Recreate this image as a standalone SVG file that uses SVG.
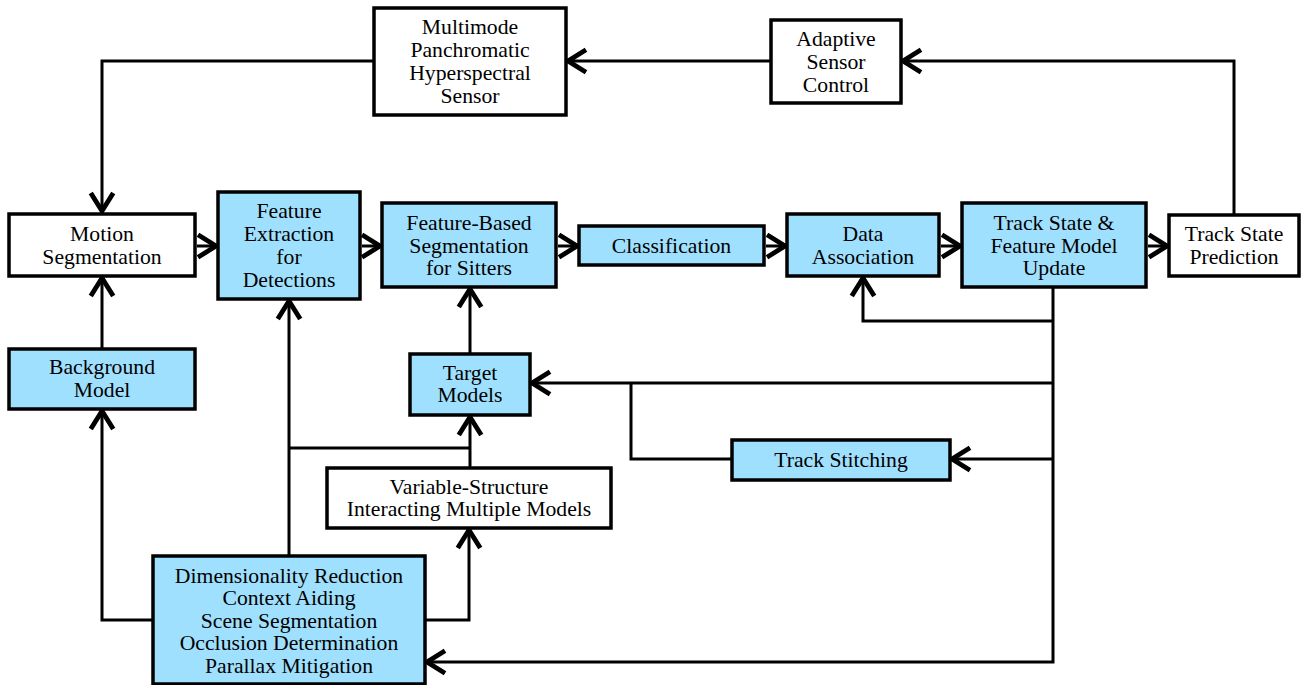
<svg xmlns="http://www.w3.org/2000/svg" width="1304" height="685" viewBox="0 0 1304 685" font-family="'Liberation Serif', 'Times New Roman', Times, serif">
<defs>
<marker id="arr" markerUnits="userSpaceOnUse" markerWidth="30" markerHeight="30" viewBox="-16 -10 20 20" refX="0" refY="0" orient="auto">
<path d="M-12,-7.5 L0,0 L-12,7.5" fill="none" stroke="#000" stroke-width="3.2" stroke-linejoin="miter" stroke-miterlimit="3"/>
</marker>
</defs>
<style>
.b{fill:#fff;stroke:#000;stroke-width:3.5}
.c{fill:#a0e0ff;stroke:#000;stroke-width:3.5}
text{font-size:21.7px;fill:#000;text-anchor:middle}
.l{fill:none;stroke:#000;stroke-width:3}
.a{marker-end:url(#arr)}
</style>
<rect width="1304" height="685" fill="#fff"/>
<g id="connectors">
<path class="l a" d="M374,61 H102 V211"/>
<path class="l a" d="M771,61 H568"/>
<path class="l a" d="M1234,215 V61 H903"/>
<path class="l a" d="M197,246 H216"/>
<path class="l a" d="M362,246 H380"/>
<path class="l a" d="M558,246 H577"/>
<path class="l a" d="M766,246 H785"/>
<path class="l a" d="M941,246 H960"/>
<path class="l a" d="M1148,246 H1167"/>
<path class="l a" d="M102,349 V278"/>
<path class="l a" d="M153,620 H102 V411"/>
<path class="l a" d="M289,556 V301"/>
<path class="l" d="M289,448 H470"/>
<path class="l a" d="M470,468 V417"/>
<path class="l a" d="M470,354 V289"/>
<path class="l a" d="M425,620 H469 V530"/>
<path class="l a" d="M1053,287 V662 H427"/>
<path class="l a" d="M1053,321 H863 V278"/>
<path class="l a" d="M1053,383 H532"/>
<path class="l a" d="M1053,459 H952"/>
<path class="l" d="M732,459 H631 V383"/>
</g>
<g id="multimode"><rect class="b" x="374" y="8" width="192" height="107"/><text x="470" y="33.5">Multimode</text><text x="470" y="56.5">Panchromatic</text><text x="470" y="79.5">Hyperspectral</text><text x="470" y="102.5">Sensor</text></g>
<g id="adaptive"><rect class="b" x="771" y="20" width="130" height="83"/><text x="836" y="46">Adaptive</text><text x="836" y="69">Sensor</text><text x="836" y="91.5">Control</text></g>
<g id="motion"><rect class="b" x="9" y="214" width="186" height="62"/><text x="102" y="241">Motion</text><text x="102" y="264">Segmentation</text></g>
<g id="featext"><rect class="c" x="218" y="192" width="142" height="107"/><text x="289" y="217.5">Feature</text><text x="289" y="240.5">Extraction</text><text x="289" y="263.5">for</text><text x="289" y="286.5">Detections</text></g>
<g id="fbs"><rect class="c" x="382" y="203" width="174" height="84"/><text x="469" y="230">Feature-Based</text><text x="469" y="252.5">Segmentation</text><text x="469" y="275">for Sitters</text></g>
<g id="classification"><rect class="c" x="579" y="226" width="185" height="39"/><text x="671.5" y="252.5">Classification</text></g>
<g id="dataassoc"><rect class="c" x="787" y="214" width="152" height="62"/><text x="863" y="241">Data</text><text x="863" y="264">Association</text></g>
<g id="tsu"><rect class="c" x="962" y="203" width="184" height="84"/><text x="1054" y="230">Track State &amp;</text><text x="1054" y="252.5">Feature Model</text><text x="1054" y="275">Update</text></g>
<g id="tsp"><rect class="b" x="1169" y="215" width="130" height="61"/><text x="1234" y="241">Track State</text><text x="1234" y="264">Prediction</text></g>
<g id="background"><rect class="c" x="9" y="349" width="186" height="60"/><text x="102" y="373.5">Background</text><text x="102" y="396.5">Model</text></g>
<g id="target"><rect class="c" x="410" y="354" width="120" height="61"/><text x="470" y="379.5">Target</text><text x="470" y="402">Models</text></g>
<g id="vsimm"><rect class="b" x="327" y="468" width="284" height="60"/><text x="469" y="493.5">Variable-Structure</text><text x="469" y="516">Interacting Multiple Models</text></g>
<g id="stitch"><rect class="c" x="732" y="440" width="218" height="40"/><text x="841" y="466.5">Track Stitching</text></g>
<g id="dim"><rect class="c" x="153" y="556" width="272" height="128"/><text x="289" y="582.5">Dimensionality Reduction</text><text x="289" y="605">Context Aiding</text><text x="289" y="627.5">Scene Segmentation</text><text x="289" y="650">Occlusion Determination</text><text x="289" y="672.5">Parallax Mitigation</text></g>
</svg>
